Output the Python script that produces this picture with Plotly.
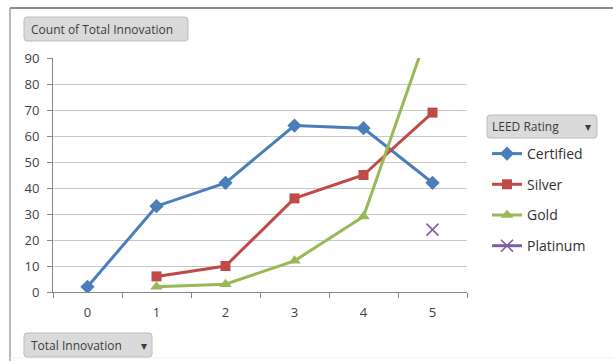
import plotly.graph_objects as go

# Chart data
categories = ["0", "1", "2", "3", "4", "5"]
certified_x = ["0", "1", "2", "3", "4", "5"]
certified = [2, 33, 42, 64, 63, 42]
silver_x = ["1", "2", "3", "4", "5"]
silver = [6, 10, 36, 45, 69]
gold_x = ["1", "2", "3", "4", "5"]
gold = [2, 3, 12, 29, 105]
platinum_x = ["5"]
platinum = [24]

W, H = 613, 362
L, R, T, B = 53, 467, 58, 292  # plot area in pixels


def px(x):
    return (x - L) / (R - L)


def py(y):
    return (B - y) / (B - T)


def rounded(x0, y0, x1, y1, r=3):
    a0, a1 = px(x0), px(x1)
    b0, b1 = py(y1), py(y0)
    rx = r / (R - L)
    ry = r / (B - T)
    return (f"M {a0+rx},{b0} L {a1-rx},{b0} Q {a1},{b0} {a1},{b0+ry} "
            f"L {a1},{b1-ry} Q {a1},{b1} {a1-rx},{b1} L {a0+rx},{b1} "
            f"Q {a0},{b1} {a0},{b1-ry} L {a0},{b0+ry} Q {a0},{b0} {a0+rx},{b0} Z")


fig = go.Figure()
fig.add_trace(go.Scatter(
    x=certified_x, y=certified, name="Certified", mode="lines+markers",
    line=dict(color="#4A7EBB", width=3), legendgroup="a",
    marker=dict(symbol="diamond", size=11, color="#4A7EBB")))
fig.add_trace(go.Scatter(
    x=silver_x, y=silver, name="Silver", mode="lines+markers",
    line=dict(color="#BE4B48", width=3), legendgroup="b",
    marker=dict(symbol="square", size=10, color="#BE4B48")))
fig.add_trace(go.Scatter(
    x=gold_x, y=gold, name="Gold", mode="lines+markers",
    line=dict(color="#98B954", width=3), legendgroup="c",
    marker=dict(symbol="triangle-up", size=11, color="#98B954")))
fig.add_trace(go.Scatter(
    x=platinum_x, y=platinum, name="Platinum", mode="lines+markers",
    line=dict(color="#7D60A0", width=3), legendgroup="d",
    marker=dict(symbol="x-thin", size=12, color="#7D60A0",
                line=dict(color="#7D60A0", width=1.6))))

font = "Open Sans"
shapes = [
    # outer frame
    dict(type="line", xref="paper", yref="paper", x0=px(10), x1=px(613), y0=py(8), y1=py(8),
         line=dict(color="#8c8c8c", width=2)),
    dict(type="line", xref="paper", yref="paper", x0=px(10), x1=px(10), y0=py(8), y1=py(361),
         line=dict(color="#a0a0a0", width=1.5)),
    dict(type="line", xref="paper", yref="paper", x0=px(10), x1=px(613), y0=py(358), y1=py(358),
         line=dict(color="#f0f0f0", width=1)),
]
buttons = [(24, 17, 188, 41), (24, 333, 152, 357), (487, 115, 597, 138)]
for (x0, y0, x1, y1) in buttons:
    shapes.append(dict(type="path", xref="paper", yref="paper", path=rounded(x0, y0, x1, y1),
                       fillcolor="#dadada", line=dict(color="#bdbdbd", width=1)))

annotations = [
    dict(text="Count of Total Innovation", x=px(29), y=py(29), xanchor="left", yanchor="middle"),
    dict(text="Total Innovation", x=px(29), y=py(345), xanchor="left", yanchor="middle"),
    dict(text="LEED Rating", x=px(490), y=py(126.5), xanchor="left", yanchor="middle"),
    dict(text="▾", x=px(144), y=py(345), xanchor="center", yanchor="middle"),
    dict(text="▾", x=px(588), y=py(126.5), xanchor="center", yanchor="middle"),
]
for a in annotations:
    a.update(xref="paper", yref="paper", showarrow=False,
             font=dict(family=font, size=12, color="#3c3c3c"))

fig.update_layout(
    width=W, height=H,
    margin=dict(l=L, r=W - R, t=T, b=H - B),
    paper_bgcolor="white", plot_bgcolor="white",
    font=dict(family=font, color="#404040"),
    showlegend=True,
    legend=dict(x=px(487), y=py(138), xanchor="left", yanchor="top",
                font=dict(family=font, size=14, color="#303030"),
                tracegroupgap=9.5, bgcolor="rgba(0,0,0,0)"),
    xaxis=dict(type="category", categoryarray=categories, categoryorder="array",
               range=[-0.5, 5.5], tickson="boundaries", ticks="outside", ticklen=5,
               tickcolor="#868686", showline=True, linecolor="#868686", linewidth=1,
               showgrid=False, tickfont=dict(size=13, color="#404040"), zeroline=False,
               ticklabelstandoff=8),
    yaxis=dict(range=[0, 90], dtick=10, ticks="outside", ticklen=5, tickcolor="#868686",
               showline=True, linecolor="#868686", linewidth=1,
               showgrid=True, gridcolor="#c8c8c8", gridwidth=1, zeroline=False,
               tickfont=dict(size=13, color="#404040"), ticklabelstandoff=5),
    shapes=shapes,
    annotations=annotations,
)

fig.write_html("out.html")
